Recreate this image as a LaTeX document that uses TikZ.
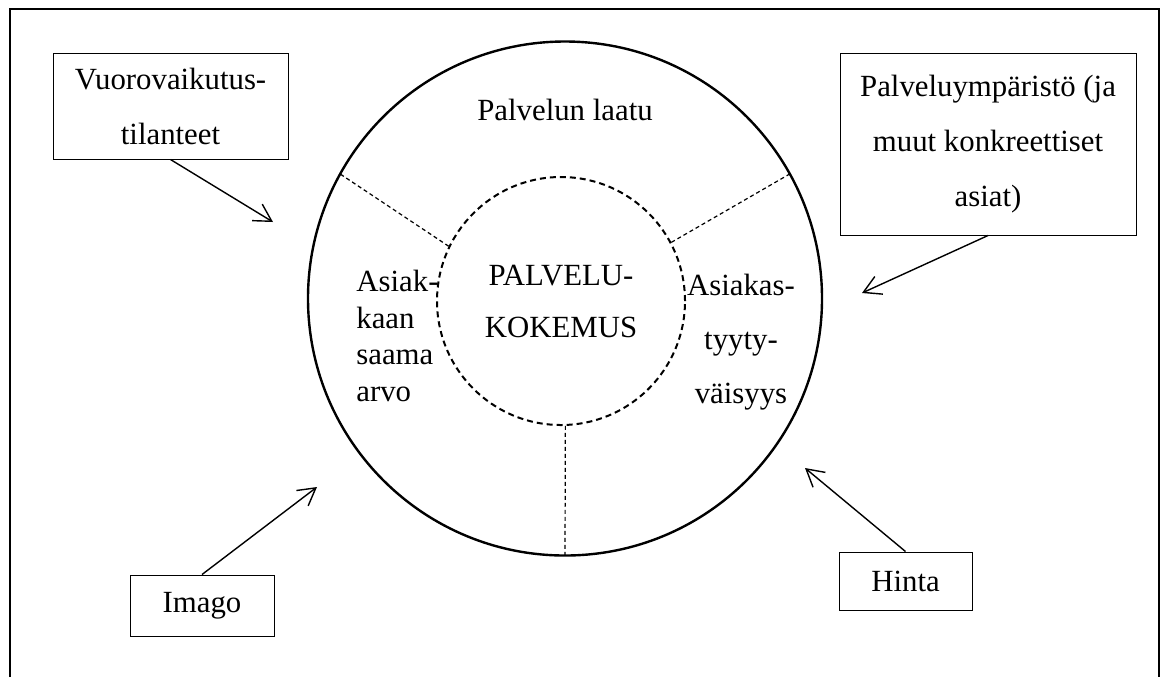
\documentclass[tikz,border=0pt]{standalone}
\usepackage{fontspec}
\setmainfont{Liberation Serif}
\usetikzlibrary{arrows.meta}

\begin{document}
\begin{tikzpicture}[x=0.5pt, y=-0.5pt, every node/.style={font=\fontsize{15.4}{27.5}\selectfont}, >={Straight Barb[length=3mm,width=3.4mm]},
	laatikko/.style={draw, line width=0.5pt, inner sep=0pt, align=center},
	nuoli/.style={->, line width=0.7pt},
	sektori/.style={line width=0.6pt, dash pattern=on 2pt off 1.5pt}]
	\useasboundingbox (0,0) rectangle (1165,677);
	\draw[line width=1pt] (10,677) -- (10,9) -- (1159,9) -- (1159,677);
	% ympyrat
	\node[circle, draw, line width=1.2pt, minimum size=257pt, inner sep=0pt] (ulko) at (565,298.5) {};
	\node[circle, draw, line width=1pt, dash pattern=on 3pt off 2pt, minimum size=124pt, inner sep=0pt, align=center, font=\fontsize{15.4}{26}\selectfont] (kokemus) at (561,301) {PALVELU-\\KOKEMUS};
	\draw[sektori] (kokemus.154) -- (ulko.151);
	\draw[sektori] (kokemus.28) -- (ulko.29);
	\draw[sektori] (kokemus.272) -- (ulko.270);
	\node (laatu) at (565,110) {Palvelun laatu};
	\node[align=left, anchor=west, inner sep=0pt, font=\fontsize{15.4}{18.3}\selectfont] (arvo) at (356,336) {Asiak-\\kaan\\saama\\arvo};
	\node[align=center, font=\fontsize{15.4}{27}\selectfont] (tyytyvaisyys) at (741,342) {Asiakas-\\tyyty-\\väisyys};
	% laatikot
	\node[laatikko, minimum width=117.5pt, minimum height=53pt] (vuoro) at (170.5,106) {Vuorovaikutus-\\tilanteet};
	\node[laatikko, minimum width=148pt, minimum height=91pt] (ymparisto) at (988,144) {Palveluympäristö (ja\\muut konkreettiset\\asiat)};
	\node[laatikko, minimum width=72pt, minimum height=30.5pt] (imago) at (202,605.5) {Imago};
	\node[laatikko, minimum width=66.5pt, minimum height=29pt] (hinta) at (905.5,581) {Hinta};
	% nuolet
	\coordinate (k1) at (273,222);
	\coordinate (k2) at (862,293);
	\coordinate (k3) at (317,487);
	\coordinate (k4) at (805,468);
	\draw[nuoli] (vuoro.south) -- (k1);
	\draw[nuoli] (ymparisto.south) -- (k2);
	\draw[nuoli] (imago.north) -- (k3);
	\draw[nuoli] (hinta.north) -- (k4);
\end{tikzpicture}
\end{document}
